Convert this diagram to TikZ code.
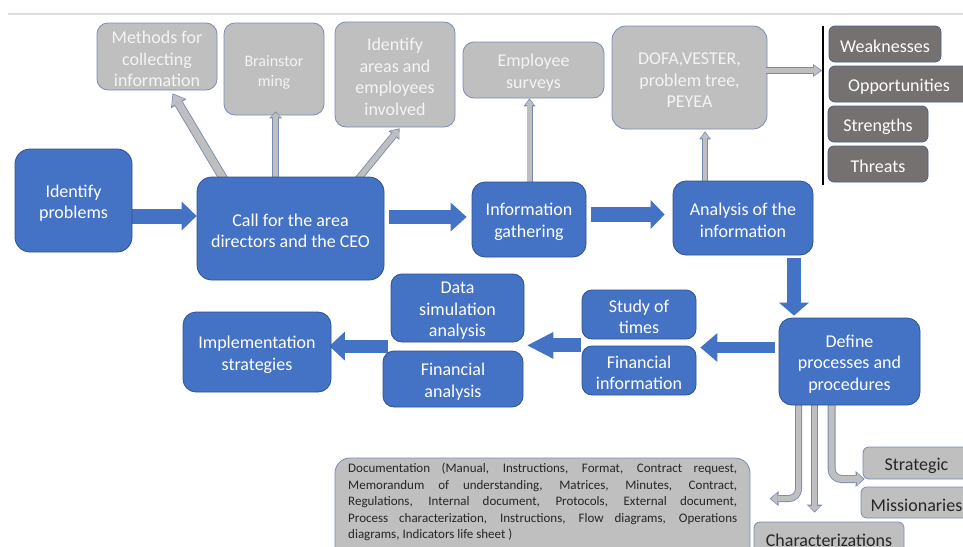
\documentclass[tikz,border=0pt]{standalone}
\usepackage{fontspec}
\setmainfont{Carlito}
\usetikzlibrary{arrows.meta,calc}
\pgfdeclarelayer{fg}
\pgfsetlayers{main,fg}
\definecolor{bfill}{HTML}{4472C4}
\definecolor{bline}{HTML}{2F528F}
\definecolor{gfill}{HTML}{BFBFBF}
\definecolor{gline}{HTML}{7A8BB3}
\definecolor{dfill}{HTML}{767171}
\definecolor{dline}{HTML}{4E5F85}
\definecolor{txtdark}{HTML}{262626}
\definecolor{txtlight}{HTML}{F4F4F4}
\definecolor{sepline}{HTML}{DDDDDD}
\newcommand\fs{\rule{0pt}{17.5pt}}
\newcommand\fss{\rule{0pt}{17pt}}
% blue block arrow: #1 opts, #2 path, #3 shaft, #4 head width, #5 head length
\newcommand\blockarr[5][]{%
  \draw[draw=bfill, line width=#3pt, -{Triangle[length=#5pt,width=#4pt,line width=0pt]}, #1] #2;}
% gray bordered arrow: #1 opts, #2 path, #3 shaft, #4 head w, #5 head l, #6-#8 inner values
\newcommand\grayarr[8][]{%
  \draw[draw=gline, line width=#3pt, -{Triangle[length=#5pt,width=#4pt,line width=0pt]}, #1] #2;
  \draw[draw=gfill, line width=#6pt, shorten >=1.4pt, -{Triangle[length=#8pt,width=#7pt,line width=0pt]}, #1] #2;}
\begin{document}
\begin{tikzpicture}[x=1pt,y=-1pt,
  base/.style={inner sep=0pt, align=center, font=\fontsize{18}{21.6}\selectfont},
  bluebox/.style={base, fill=bfill, draw=bline, line width=0.8pt, text=white, rounded corners=13pt},
  graybox/.style={base, fill=gfill, draw=gline, line width=0.8pt, text=txtlight, rounded corners=11pt},
  darkbox/.style={base, fill=dfill, draw=dline, line width=0.8pt, text=white, rounded corners=6pt},
  lightbox/.style={base, fill=gfill, draw=gline, line width=0.8pt, text=txtdark, rounded corners=6pt},
  docbox/.style={fill=gfill, draw=gline, line width=0.8pt, rounded corners=15pt},
  doctext/.style={anchor=north west, inner xsep=13pt, inner ysep=3pt, text width=389pt, align=justify,
    font=\fontsize{13}{16.5}\selectfont, text=txtdark},
  sz/.style 2 args={minimum width=#1pt, minimum height=#2pt}]
\useasboundingbox (0,0) rectangle (963,546);
\fill[white] (0,0) rectangle (963,546);
\draw[sepline, line width=2pt] (8,14) -- (963,14);

% ---------- blue process boxes (front layer) ----------
\begin{pgfonlayer}{fg}
\node[bluebox, sz={117}{103}, rounded corners=15pt] (idp) at (73.5,200.5) {\fs Identify\\problems};
\node[bluebox, sz={187}{103}, rounded corners=15pt] (call) at (290.5,228.5) {\fs Call for the area\\directors and the CEO};
\node[bluebox, sz={114}{75}] (info) at (529,219.5) {\fs Information\\gathering};
\node[bluebox, sz={140}{74}] (ana) at (743,218) {\fs Analysis of the\\information};
\node[bluebox, sz={141}{87}] (def) at (849.5,361.5) {\fs Define\\processes and\\procedures};
\node[bluebox, sz={114}{49}, rounded corners=10pt] (study) at (639,314.5) {\fs Study of\\times};
\node[bluebox, sz={114}{49}, rounded corners=10pt] (finf) at (639,370.5) {\fs Financial\\information};
\node[bluebox, sz={133}{68}, rounded corners=11pt] (ds) at (457.5,308) {\fs Data\\simulation\\analysis};
\node[bluebox, sz={140}{56}, rounded corners=11pt] (fa) at (453,379) {\fs Financial\\analysis};
\node[bluebox, sz={148}{80}] (impl) at (257,352) {\fs Implementation\\strategies};
\end{pgfonlayer}

% ---------- gray boxes ----------
\node[graybox, sz={120}{67}] (meth) at (157,56.5) {\fs Methods for\\collecting\\information};
\node[graybox, sz={100}{92}, font=\fontsize{16}{20}\selectfont] (brain) at (274,69) {\fss Brainstor\\ming};
\node[graybox, sz={120}{105}] (iden) at (395,74.5) {\fs Identify\\areas and\\employees\\involved};
\node[graybox, sz={141}{56}] (emp) at (533.5,70) {\fs Employee\\surveys};
\node[graybox, sz={155}{103}, rounded corners=14pt] (dofa) at (689.5,77.5) {\fs DOFA,VESTER,\\problem tree,\\PEYEA};

\node[darkbox, sz={112}{36}] (weak) at (885,44) {\fs Weaknesses};
\node[darkbox, sz={140}{36}] (opp) at (899,84) {\fs Opportunities};
\node[darkbox, sz={100}{36}] (str) at (878,124) {\fs Strengths};
\node[darkbox, sz={100}{36}] (thr) at (878,164) {\fs Threats};

\node[lightbox, sz={107}{32}] (strat) at (916.5,463) {\fs Strategic};
\node[lightbox, sz={111}{31}] (miss) at (916.5,502.5) {\fs Missionaries};
\node[lightbox, sz={150}{32}] (char) at (829,538) {\fs Characterizations};

\coordinate (docnw) at (335,458);
\draw[docbox] (docnw) rectangle ($(docnw)+(415,110)$);
\node[doctext] (doc) at ($(docnw)+(0,2)$) {Documentation (Manual, Instructions, Format, Contract request,\linebreak
Memorandum of understanding, Matrices, Minutes, Contract,\linebreak
Regulations, Internal document, Protocols, External document,\linebreak
Process characterization, Instructions, Flow diagrams, Operations\linebreak
diagrams, Indicators life sheet )};

% ---------- bar of the SWOT list ----------
\coordinate (bart) at (823,26);
\coordinate (barb) at (823,185);
\draw[black, line width=2.5pt] (bart) -- (barb);

% ---------- blue flow arrows ----------
\coordinate (a1) at ($(idp.east)+(-3,15.5)$);
\blockarr{(a1) -- (call.west |- a1)}{15}{29}{15}
\coordinate (a2) at ($(call.east)+(5,-11.5)$);
\blockarr[shorten >=5pt]{(a2) -- (info.west |- a2)}{14}{29}{16}
\coordinate (a3) at ($(info.east)+(5,-5)$);
\blockarr[shorten >=8pt]{(a3) -- (ana.west |- a3)}{15}{29}{14}
\coordinate (a4) at ($(ana.south)+(51,3)$);
\blockarr[shorten >=2pt]{(a4) -- (a4 |- def.north)}{14}{30}{13}
\coordinate (a5) at ($(def.west)+(-4,-14)$);
\blockarr[shorten >=4pt]{(a5) -- (study.east |- a5)}{11}{29}{17}
\coordinate (a6) at ($(study.south west)+(-1,6)$);
\blockarr[shorten >=3pt]{(a6) -- (ds.east |- a6)}{14}{27}{26}
\coordinate (a7) at ($(fa.north west)+(5,-4.5)$);
\blockarr[shorten >=-2pt]{(a7) -- (impl.east |- a7)}{13}{29}{15.5}

% ---------- gray arrows ----------
\grayarr{($(call.north west)+(28,4)$) -- ($(meth.south west)+(76,3)$)}{9}{18}{12}{7.2}{14.8}{9.4}
\grayarr{($(call.north west)+(79,4)$) -- ($(brain.south west)+(52,-4)$)}{6.5}{13}{7}{4.7}{9.8}{4.4}
\grayarr{($(call.north west)+(161,3)$) -- ($(iden.south west)+(65,1)$)}{7}{14}{9}{5.2}{10.8}{6.4}
\coordinate (e1) at ($(info.north)+(0.5,4)$);
\grayarr{(e1) -- (e1 |- emp.south)}{6}{12}{8}{4.2}{8.8}{5.4}
\coordinate (e2) at ($(ana.north west)+(32.5,4)$);
\grayarr{(e2) -- ($(e2 |- dofa.south)+(0,2)$)}{6}{12}{8}{4.2}{8.8}{5.4}
\coordinate (dq) at ($(dofa.east)+(-1,-7)$);
\grayarr{(dq) -- ($(bart |- dq)+(-1,0)$)}{7}{13}{9}{5.2}{9.8}{6.4}
\coordinate (b1) at ($(def.south west)+(20,-4)$);
\grayarr[rounded corners=10pt]{(b1) |- ($(char.north west)+(16,-23)$)}{7}{15}{9}{5.2}{11.8}{6.4}
\coordinate (b2) at ($(def.south west)+(36,-4)$);
\grayarr{(b2) -- ($(char.north west)+(61,-9)$)}{7}{16}{8}{5.2}{12.8}{5.4}
\coordinate (b3) at ($(def.south west)+(53,-4)$);
\grayarr[rounded corners=10pt]{(b3) |- ($(strat.west)+(2,16)$)}{8}{16}{9}{6.2}{12.8}{6.4}
\end{tikzpicture}
\end{document}
